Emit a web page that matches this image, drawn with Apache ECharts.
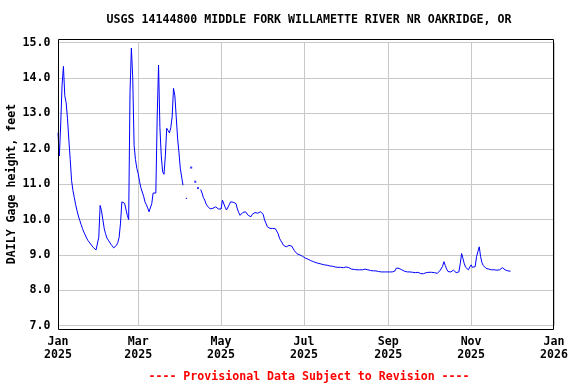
<!DOCTYPE html>
<html>
<head>
<meta charset="utf-8">
<script src="https://cdn.jsdelivr.net/npm/echarts@6/dist/echarts.min.js"></script>
<style>
html,body{margin:0;padding:0;background:#fff;}
#chart{width:576px;height:384px;}
</style>
</head>
<body>
<div id="chart"></div>
<script>
// ---- Data ----
const chartTitle = 'USGS 14144800 MIDDLE FORK WILLAMETTE RIVER NR OAKRIDGE, OR';
const footerText = '---- Provisional Data Subject to Revision ----';
const yAxisTitle = 'DAILY Gage height, feet';
const startDate = '2025-01-01'; // first daily value
// Daily gage height (feet), one value per day from 2025-01-01; null = missing
const gageHeight = [
 12.45, 11.8, 12.7, 13.8, 14.33, 13.5, 13.3, 12.85, 12.25, 11.7,
 11.1, 10.82, 10.62, 10.42, 10.25, 10.1, 9.98, 9.86, 9.75, 9.65,
 9.57, 9.48, 9.41, 9.36, 9.31, 9.27, 9.21, 9.16, 9.14, 9.12,
 9.5, 10.4, 10.25, 10.0, 9.75, 9.6, 9.48, 9.42, 9.37, 9.3,
 9.25, 9.2, 9.2, 9.27, 9.35, 9.5, 9.9, 10.5, 10.45, 10.46,
 10.45, 10.12, 10.0, 13.6, 14.85, 14.0, 12.1, 11.7, 11.45,
 11.3, 11.08, 10.9, 10.78, 10.66, 10.5, 10.42, 10.33, 10.22, 10.18, 10.45,
 10.75, 10.72, 10.75, 12.9, 14.37, 12.6, 11.8, 11.35, 11.28, 11.8,
 12.58, 12.52, 12.45, 12.6, 12.9, 13.71, 13.5, 12.9, 12.3, 11.9,
 11.45, 11.2, 10.97, null, 10.6, 10.6, null, null, 11.47, null,
 null, 11.07, null, 10.89, null, 10.85, 10.75, 10.62, 10.55, 10.44,
 10.38, 10.33, 10.3, 10.27, 10.32, 10.37, 10.36, 10.33, 10.3, 10.27,
 10.3, 10.55, 10.5, 10.35, 10.27, 10.27, 10.42, 10.5, 10.5, 10.49,
 10.48, 10.45, 10.3, 10.2, 10.12, 10.15, 10.2, 10.25, 10.22, 10.18,
 10.12, 10.08, 10.08, 10.15, 10.2, 10.2, 10.22, 10.18, 10.23, 10.22,
 10.22, 10.15, 9.99, 9.9, 9.8, 9.77, 9.75, 9.75, 9.75, 9.75,
 9.74, 9.7, 9.6, 9.47, 9.4, 9.34, 9.27, 9.23, 9.23, 9.23,
 9.27, 9.3, 9.25, 9.2, 9.12, 9.07, 9.03, 9.0, 9.0, 8.98,
 8.96, 8.94, 8.91, 8.9, 8.88, 8.86, 8.84, 8.82, 8.81, 8.8,
 8.78, 8.77, 8.76, 8.75, 8.74, 8.73, 8.72, 8.71, 8.71, 8.7,
 8.69, 8.69, 8.68, 8.67, 8.66, 8.66, 8.65, 8.65, 8.65, 8.64,
 8.64, 8.63, 8.66, 8.69, 8.64, 8.62, 8.6, 8.6, 8.59, 8.59,
 8.58, 8.58, 8.58, 8.58, 8.58, 8.59, 8.6, 8.59, 8.58, 8.57,
 8.56, 8.55, 8.55, 8.55, 8.55, 8.54, 8.53, 8.53, 8.52, 8.52,
 8.52, 8.52, 8.52, 8.52, 8.52, 8.52, 8.52, 8.52, 8.55, 8.63,
 8.68, 8.62, 8.6, 8.58, 8.56, 8.54, 8.52, 8.52, 8.52, 8.52,
 8.52, 8.51, 8.51, 8.5, 8.5, 8.51, 8.5, 8.47, 8.47, 8.47,
 8.48, 8.5, 8.51, 8.51, 8.51, 8.51, 8.5, 8.5, 8.49, 8.48,
 8.47, 8.55, 8.6, 8.68, 8.81, 8.7, 8.6, 8.53, 8.52, 8.52,
 8.55, 8.57, 8.52, 8.5, 8.5, 8.52, 8.75, 9.04, 8.9, 8.75,
 8.65, 8.6, 8.58, 8.6, 8.72, 8.65, 8.63, 8.67, 8.95, 9.1,
 9.23, 8.95, 8.78, 8.7, 8.65, 8.62, 8.6, 8.6, 8.58, 8.58,
 8.6, 8.58, 8.55, 8.57, 8.6, 8.58, 8.58, 8.64, 8.6, 8.58,
 8.56, 8.55, 8.55, 8.54
];
const xTickDates = ['2025-01-01','2025-03-01','2025-05-01','2025-07-01','2025-09-01','2025-11-01','2026-01-01'];
const xTickLabels = ['Jan\n2025','Mar\n2025','May\n2025','Jul\n2025','Sep\n2025','Nov\n2025','Jan\n2026'];
const yMin = 7, yMax = 15, yStep = 1;

// ---- Build ----
const DAY = 86400000;
const t0 = Date.parse(startDate + 'T00:00:00Z');
const lineData = gageHeight.map((v, i) => [t0 + i * DAY, v]);
const isolated = lineData.filter((p, i) => p[1] != null &&
  (i === 0 || gageHeight[i - 1] == null) && (i === gageHeight.length - 1 || gageHeight[i + 1] == null));
const tickTimes = xTickDates.map(d => Date.parse(d + 'T00:00:00Z'));

const font = '"DejaVu Sans Mono", "Liberation Mono", monospace';
const fs = 11.6;
const textFont = 'bold ' + fs + 'px ' + font;

const chart = echarts.init(document.getElementById('chart'), null, {renderer: 'canvas'});
chart.setOption({
  animation: false,
  backgroundColor: '#fff',
  grid: {left: 58, right: 22, top: 42.7, bottom: 58.3, containLabel: false, outerBoundsMode: 'none'},
  xAxis: {
    type: 'value',
    min: tickTimes[0],
    max: tickTimes[tickTimes.length - 1],
    axisLine: {show: false},
    axisTick: {show: false, customValues: tickTimes},
    splitLine: {show: true, lineStyle: {color: '#c8c8c8', width: 1}},
    axisLabel: {
      customValues: tickTimes,
      formatter: function (v) {
        const k = tickTimes.indexOf(v);
        return k >= 0 ? xTickLabels[k] : '';
      },
      fontFamily: font, fontSize: fs, fontWeight: 'bold', color: '#000',
      lineHeight: 13, margin: 10, showMinLabel: true, showMaxLabel: true, hideOverlap: false
    }
  },
  yAxis: {
    type: 'value',
    min: yMin, max: yMax, interval: yStep,
    axisLine: {show: false},
    axisTick: {show: false},
    splitLine: {show: true, lineStyle: {color: '#c8c8c8', width: 1}},
    axisLabel: {
      formatter: v => v.toFixed(1),
      fontFamily: font, fontSize: fs, fontWeight: 'bold', color: '#000', margin: 7.6,
      padding: [3, 0, 0, 0]
    }
  },
  series: [
    {
      type: 'line',
      data: lineData,
      showSymbol: false,
      connectNulls: false,
      lineStyle: {color: '#0000ff', width: 1},
      itemStyle: {color: '#0000ff'},
      silent: true
    },
    {
      type: 'scatter',
      data: isolated,
      symbol: 'rect',
      symbolSize: [2, 2],
      itemStyle: {color: '#0000ff'},
      silent: true
    }
  ],
  graphic: [
    {type: 'rect', shape: {x: 58.5, y: 39.5, width: 495, height: 290},
     style: {fill: null, stroke: '#000', lineWidth: 1}, silent: true, z: 100},
    {type: 'text', x: 309, y: 19.5, style: {text: chartTitle, font: textFont,
     fill: '#000', textAlign: 'center', textVerticalAlign: 'middle'}},
    {type: 'text', x: 12, y: 184, rotation: Math.PI / 2, style: {text: yAxisTitle, font: textFont,
     fill: '#000', textAlign: 'center', textVerticalAlign: 'middle'}},
    {type: 'text', x: 309, y: 376.5, style: {text: footerText, font: textFont,
     fill: '#ff0000', textAlign: 'center', textVerticalAlign: 'middle'}}
  ]
});
</script>
</body>
</html>
